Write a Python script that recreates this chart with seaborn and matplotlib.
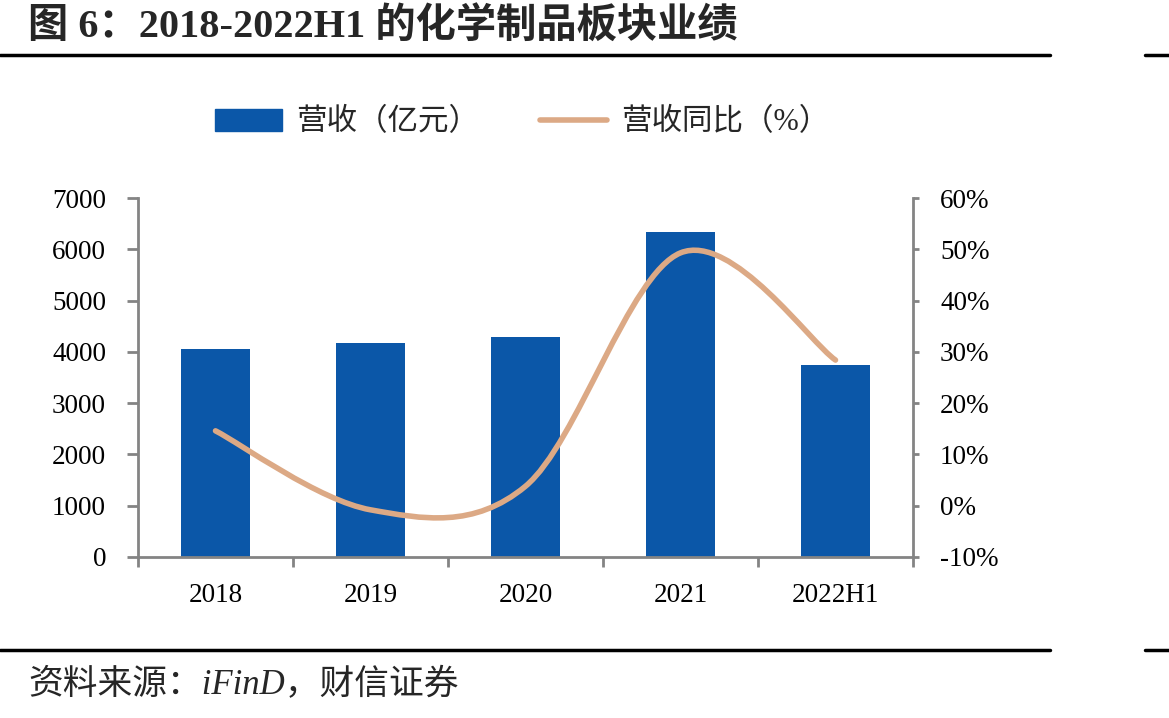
import numpy as np
import pandas as pd
import matplotlib
matplotlib.use("Agg")
import matplotlib.pyplot as plt
import seaborn as sns
from matplotlib.path import Path
from matplotlib.patches import PathPatch, Patch
from matplotlib.lines import Line2D

categories = ["2018", "2019", "2020", "2021", "2022H1"]
revenue = [4050, 4170, 4290, 6340, 3740]
yoy = [14.6, -0.8, 3.8, 49.3, 28.4]

title = "图 6：2018-2022H1 的化学制品板块业绩"
source = "资料来源：iFinD，财信证券"
bar_label = "营收（亿元）"
line_label = "营收同比（%）"

sns.set_theme(style="white")
FONTS = ["Liberation Serif", "Noto Sans CJK SC", "DejaVu Sans"]
plt.rcParams["font.family"] = FONTS

BAR_C = "#0B57A8"
LINE_C = "#DCA985"
GRAY = "#848484"

fig = plt.figure(figsize=(11.69, 7.18), dpi=100)
ax = fig.add_axes([138/1169, 1-557/718, (913-138)/1169, (557-198)/718])

df = pd.DataFrame({"cat": categories, "rev": revenue})
sns.barplot(data=df, x="cat", y="rev", color=BAR_C, saturation=1, width=0.44, ax=ax, linewidth=0)

ax.set_ylim(0, 7000)
ax.set_yticks(np.arange(0, 7001, 1000))
ax.set_xlim(-0.5, len(categories) - 0.5)
ax.set_xlabel("")
ax.set_ylabel("")

ax2 = ax.twinx()
ax2.set_ylim(-10, 60)
ax2.set_yticks(np.arange(-10, 61, 10))
ax2.set_yticklabels([f"{v}%" for v in range(-10, 61, 10)])

# smooth line (Bezier through the data points)
xs = np.arange(len(yoy), dtype=float)
ys = np.array(yoy, dtype=float)
verts = [(xs[0], ys[0])]
codes = [Path.MOVETO]
n = len(xs)
for i in range(n - 1):
    p0 = np.array([xs[max(i-1, 0)], ys[max(i-1, 0)]])
    p1 = np.array([xs[i], ys[i]])
    p2 = np.array([xs[i+1], ys[i+1]])
    p3 = np.array([xs[min(i+2, n-1)], ys[min(i+2, n-1)]])
    c1 = p1 + (p2 - p0) / 6.0
    c2 = p2 - (p3 - p1) / 6.0
    verts += [tuple(c1), tuple(c2), tuple(p2)]
    codes += [Path.CURVE4] * 3
patch = PathPatch(Path(verts, codes), facecolor="none", edgecolor=LINE_C,
                  linewidth=4.0, capstyle="round", joinstyle="round", zorder=5)
ax2.add_patch(patch)

for a in (ax, ax2):
    for s in a.spines.values():
        s.set_visible(False)
ax.spines["left"].set_visible(True)
ax.spines["bottom"].set_visible(True)
ax2.spines["right"].set_visible(True)
for s in (ax.spines["left"], ax.spines["bottom"], ax2.spines["right"]):
    s.set_color(GRAY)
    s.set_linewidth(2)

ax.tick_params(axis="y", which="major", direction="out", length=8, width=2,
               color=GRAY, labelsize=19.5, labelcolor="black", pad=15, left=True)
ax2.tick_params(axis="y", which="major", direction="out", length=4.5, width=2,
                color=GRAY, labelsize=19.5, labelcolor="black", pad=15, right=True)
ax.set_xticks(range(len(categories)))
ax.set_xticklabels(categories)
ax.set_xticks(np.arange(-0.5, len(categories), 1.0), minor=True)
ax.tick_params(axis="x", which="major", length=0, labelsize=19.5, labelcolor="black", pad=19)
ax.tick_params(axis="x", which="minor", direction="out", length=7, width=2, color=GRAY, bottom=True)

# legend
handles = [Patch(facecolor=BAR_C, edgecolor=BAR_C, label=bar_label),
           Line2D([0], [0], color=LINE_C, linewidth=4.0, solid_capstyle="round", label=line_label)]
fig.legend(handles=handles, loc="center", bbox_to_anchor=(522/1169, 1-123/718), ncol=2,
           frameon=False, fontsize=22, handlelength=2.2, handleheight=0.72,
           handletextpad=0.45, columnspacing=2.0)

# title and rules
fig.text(28/1169, 1-27/718, title, fontsize=29, fontweight="bold", va="center", ha="left")
for y in (1-55/718, 1-650/718):
    fig.add_artist(Line2D([0, 1050/1169], [y, y], color="black", linewidth=2.5, transform=fig.transFigure))
    fig.add_artist(Line2D([1145/1169, 1], [y, y], color="black", linewidth=2.5, transform=fig.transFigure))
fig.text(28/1169, 1-686/718, source, fontsize=25, style="italic", va="center", ha="left")

fig.savefig("out.png", dpi=100)
